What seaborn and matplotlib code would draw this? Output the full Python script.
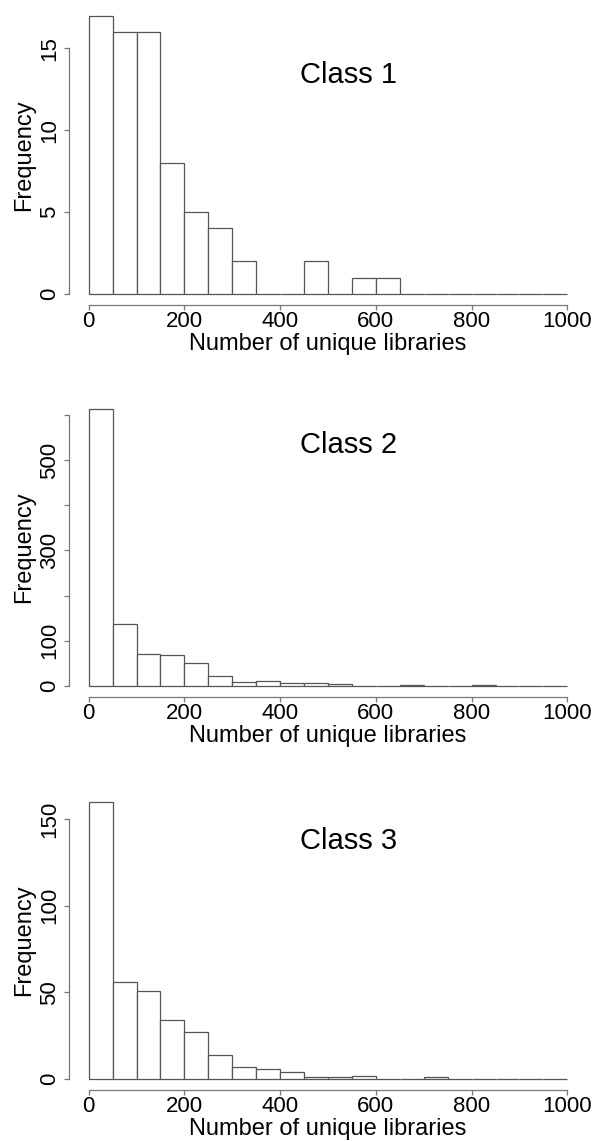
import numpy as np
import pandas as pd
import matplotlib
matplotlib.use('Agg')
import matplotlib.pyplot as plt
import seaborn as sns

sns.set_style('white')
plt.rcParams['font.family'] = ['Liberation Sans', 'DejaVu Sans']
plt.rcParams['text.color'] = 'black'
plt.rcParams['axes.labelcolor'] = 'black'

# bins of 50 from 0 to 1000
bin_edges = list(range(0, 1001, 50))
bin_mids = [b + 25 for b in bin_edges[:-1]]

class1_counts = [17, 16, 16, 8, 5, 4, 2, 0, 0, 2, 0, 1, 1, 0, 0, 0, 0, 0, 0, 0]
class2_counts = [612, 137, 70, 69, 51, 21, 9, 10, 7, 7, 4, 1, 1, 2, 0, 0, 3, 0, 0, 0]
class3_counts = [160, 56, 51, 34, 27, 14, 7, 6, 4, 1, 1, 2, 0, 0, 1, 0, 0, 0, 0, 0]

panel_titles = ['Class 1', 'Class 2', 'Class 3']
y_ticks = [[0, 5, 10, 15], [0, 100, 200, 300, 400, 500, 600], [0, 50, 100, 150]]
y_ticklabels = [['0', '5', '10', '15'], ['0', '100', '', '300', '', '500', ''], ['0', '50', '100', '150']]
x_ticks = [0, 200, 400, 600, 800, 1000]

# axes boxes in figure fractions: (left, bottom, width, height)
boxes = [(0.1166, 0.7326, 0.8674, 0.2635),
         (0.1166, 0.3891, 0.8674, 0.2618),
         (0.1166, 0.0444, 0.8674, 0.2628)]
title_y = [0.7376, 0.8165, 0.804]

EDGE = '#555555'
AXIS = '#777777'

fig = plt.figure(figsize=(5.96, 11.41), dpi=100)

for counts, title, yt, ytl, box, ty in zip([class1_counts, class2_counts, class3_counts],
                                           panel_titles, y_ticks, y_ticklabels, boxes, title_y):
    ax = fig.add_axes(box)
    df = pd.DataFrame({'libs': bin_mids, 'n': counts})
    # list of edges (not an array) to dodge seaborn's bins == "auto" check
    sns.histplot(data=df, x='libs', weights='n', bins=bin_edges, ax=ax,
                 color='white', edgecolor=EDGE, linewidth=0.9, alpha=1)

    ymax = max(counts)
    ax.set_xlim(-40, 1040)
    ax.set_ylim(-0.04 * ymax, 1.04 * ymax)

    # R-style axes: only left and bottom, spanning the tick range
    for side in ['top', 'right']:
        ax.spines[side].set_visible(False)
    for side in ['left', 'bottom']:
        ax.spines[side].set_color(AXIS)
        ax.spines[side].set_linewidth(0.9)
    ax.spines['bottom'].set_bounds(0, 1000)
    ax.spines['left'].set_bounds(yt[0], yt[-1])

    ax.set_xticks(x_ticks)
    ax.set_xticklabels([str(t) for t in x_ticks])
    ax.set_yticks(yt)
    ax.set_yticklabels(ytl, rotation=90, va='center')
    ax.tick_params(axis='both', direction='out', length=3.6, width=0.9,
                   color=AXIS, labelsize=16, labelcolor='black',
                   left=True, bottom=True)
    ax.tick_params(axis='x', pad=0.5)
    ax.tick_params(axis='y', pad=3.2)

    ax.set_ylabel('Frequency', fontsize=17, labelpad=3, color='black')
    ax.set_xlabel('Number of unique libraries', fontsize=17, labelpad=1, color='black')
    ax.grid(False)

    ax.text(0.54, ty, title, transform=ax.transAxes, ha='center', va='baseline',
            fontsize=21, color='black')

fig.savefig('out.png', dpi=100, facecolor='white')
